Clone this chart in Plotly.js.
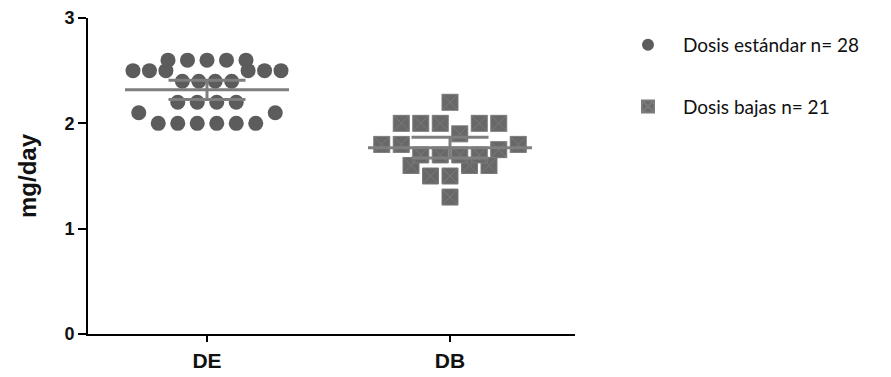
<!DOCTYPE html>
<html>
<head>
<meta charset="utf-8">
<script src="https://cdn.plot.ly/plotly-3.0.1.min.js"></script>
<style>html,body{margin:0;padding:0;background:#fff;}#chart{width:891px;height:377px;}</style>
</head>
<body>
<div id="chart"></div>
<script>
// ---- data ----
const categories = ['DE', 'DB'];
const seriesNames = ['Dosis estándar n= 28', 'Dosis bajas n= 21'];
const deValues = [2.6, 2.6, 2.6, 2.6, 2.6,
                  2.5, 2.5, 2.5, 2.5, 2.5, 2.5,
                  2.4, 2.4, 2.4, 2.4,
                  2.2, 2.2, 2.2, 2.2,
                  2.1, 2.1,
                  2.0, 2.0, 2.0, 2.0, 2.0, 2.0];
const dbValues = [2.2,
                  2.0, 2.0, 2.0, 2.0, 2.0,
                  1.9,
                  1.8, 1.8, 1.8,
                  1.75,
                  1.7, 1.7, 1.7, 1.7,
                  1.6, 1.6, 1.6,
                  1.5, 1.5,
                  1.3];
const yTickValues = [0, 1, 2, 3];

// ---- helpers ----
const PX_PER_CAT = 243;
const SPACING = 19.5 / PX_PER_CAT;
const MAX_HALF = 74 / PX_PER_CAT;
const BIN = 0.2;

function swarm(values, center) {
  const v = values.slice().sort((a, b) => a - b);
  const min = v[0];
  const bins = {};
  v.forEach(val => {
    const b = Math.floor((val - min) / BIN + 1e-6);
    (bins[b] = bins[b] || []).push(val);
  });
  const xs = [], ys = [];
  Object.keys(bins).forEach(k => {
    const arr = bins[k];
    const n = arr.length;
    const s = n > 1 ? Math.min(SPACING, 2 * MAX_HALF / (n - 1)) : SPACING;
    arr.forEach((val, i) => {
      let slot;
      if (n % 2 === 1) {
        slot = i === 0 ? 0 : (i % 2 === 1 ? -Math.ceil(i / 2) : Math.ceil(i / 2));
      } else {
        const m = Math.floor(i / 2) + 0.5;
        slot = i % 2 === 0 ? m : -m;
      }
      xs.push(center + slot * s);
      ys.push(val);
    });
  });
  return {x: xs, y: ys};
}

function stats(values) {
  const n = values.length;
  const mean = values.reduce((a, b) => a + b, 0) / n;
  const sd = Math.sqrt(values.reduce((a, b) => a + (b - mean) ** 2, 0) / (n - 1));
  const df = n - 1, z = 1.959964;
  const t = z + (z ** 3 + z) / (4 * df) + (5 * z ** 5 + 16 * z ** 3 + 3 * z) / (96 * df * df);
  const ci = t * sd / Math.sqrt(n);
  return {mean, lo: mean - ci, hi: mean + ci};
}

const LINE_COL = '#7e7e7e';
const MEAN_HALF = 82 / PX_PER_CAT;
const CAP_HALF = 38.5 / PX_PER_CAT;

function summaryTrace(values, center) {
  const st = stats(values);
  return {
    type: 'scatter', mode: 'lines', showlegend: false, hoverinfo: 'skip',
    x: [center - MEAN_HALF, center + MEAN_HALF, null,
        center - CAP_HALF, center + CAP_HALF, null,
        center - CAP_HALF, center + CAP_HALF, null,
        center, center],
    y: [st.mean, st.mean, null,
        st.hi, st.hi, null,
        st.lo, st.lo, null,
        st.lo, st.hi],
    line: {color: LINE_COL, width: 3}
  };
}

const de = swarm(deValues, 0);
const db = swarm(dbValues, 1);

const traces = [
  {
    type: 'scatter', mode: 'markers', name: seriesNames[0], legendgroup: 'a',
    x: de.x, y: de.y, cliponaxis: false,
    marker: {symbol: 'circle', size: 15, color: '#5c5c5c', line: {width: 0}}
  },
  {
    type: 'scatter', mode: 'markers', name: seriesNames[1], legendgroup: 'b',
    x: db.x, y: db.y, cliponaxis: false,
    marker: {symbol: 'square-x', size: 16, color: '#686868', line: {width: 1, color: '#7a7a7a'}}
  },
  summaryTrace(deValues, 0),
  summaryTrace(dbValues, 1)
];

const layout = {
  width: 891, height: 377,
  margin: {l: 88, r: 316, t: 18, b: 43, pad: 0},
  paper_bgcolor: '#ffffff', plot_bgcolor: '#ffffff',
  font: {family: 'Liberation Sans, Arial, sans-serif', color: '#111'},
  showlegend: true,
  legend: {
    x: 1.078, y: 0.975, xanchor: 'left', yanchor: 'top',
    font: {family: 'Lato, Open Sans, sans-serif', size: 19, color: '#111'},
    itemwidth: 60, itemsizing: 'constant', tracegroupgap: 34,
    bgcolor: 'rgba(0,0,0,0)'
  },
  xaxis: {
    range: [-119 / PX_PER_CAT, 1 + 125 / PX_PER_CAT],
    tickvals: [0, 1], ticktext: categories,
    showline: true, linecolor: '#000', linewidth: 2,
    ticks: 'outside', ticklen: 6, tickwidth: 2, tickcolor: '#000',
    showgrid: false, zeroline: false,
    ticklabelstandoff: 1,
    tickfont: {size: 21, weight: 'bold', color: '#111'}
  },
  yaxis: {
    range: [0, 3],
    tickvals: yTickValues,
    showline: true, linecolor: '#000', linewidth: 2,
    ticks: 'outside', ticklen: 8, tickwidth: 2, tickcolor: '#000',
    showgrid: false, zeroline: false,
    tickfont: {size: 18, weight: 'bold', color: '#111'},
    title: {text: 'mg/day', font: {size: 24, weight: 'bold', color: '#111'}, standoff: 21}
  }
};

Plotly.newPlot('chart', traces, layout, {displayModeBar: false, staticPlot: true});
</script>
</body>
</html>
